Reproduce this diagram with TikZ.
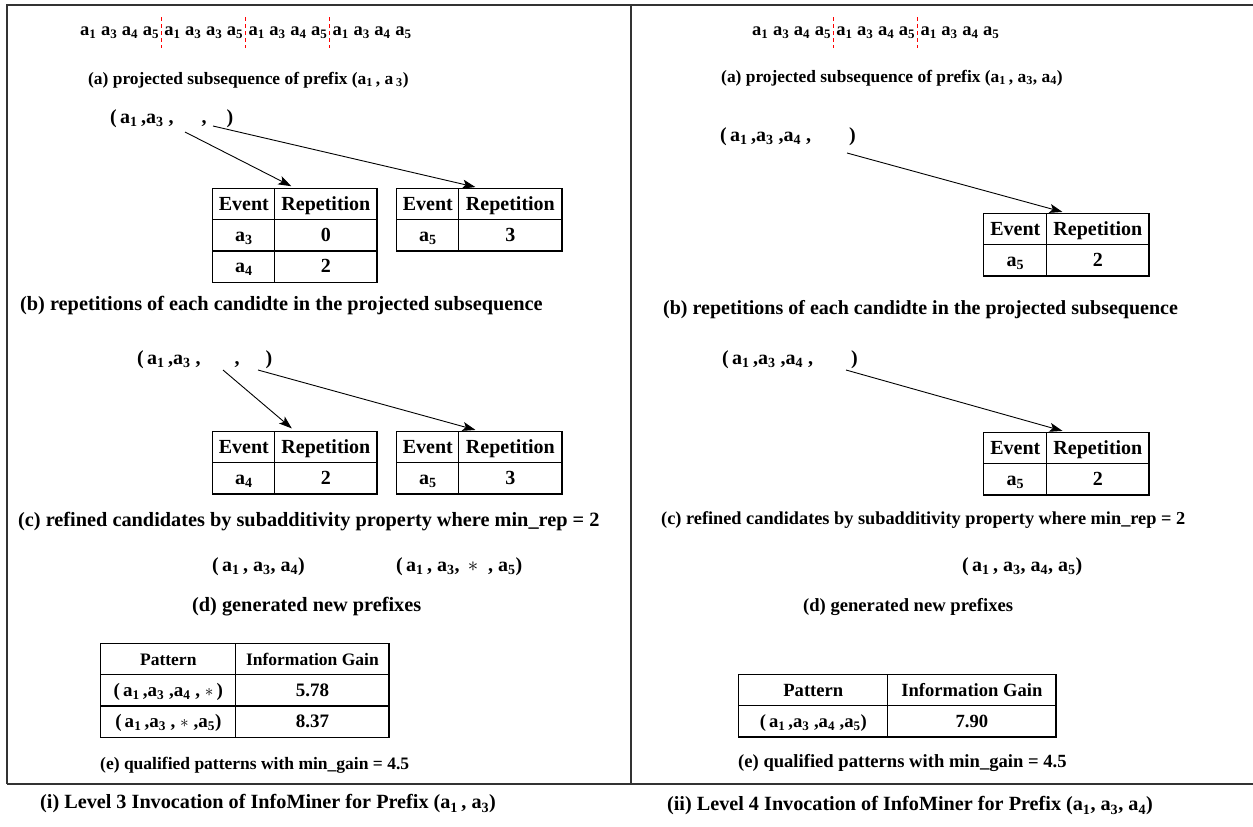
\documentclass[tikz,border=0pt]{standalone}
\usepackage{fontspec}
\setmainfont{Liberation Serif}
\usepackage{array}
\usetikzlibrary{arrows.meta,calc}
\newcommand\ev[1]{a\textsubscript{#1}}
\newcommand\tabset{\setlength\tabcolsep{0pt}\renewcommand\arraystretch{1.25}\setlength\arrayrulewidth{1.1pt}}
\begin{document}
\begin{tikzpicture}[x=1pt,y=-1pt,
 fs/.style={font=\bfseries\fontsize{#1}{24}\selectfont},
 txt/.style={fs=20, inner sep=0pt, anchor=west},
 sepline/.style={red, dash pattern=on 4pt off 3pt, line width=0.9pt},
 arr/.style={-{Stealth[length=13pt,width=9pt,inset=3pt]}, line width=0.9pt, shorten >=4pt},
 frame/.style={draw=black!80, line width=1.6pt},
 tbl/.style={fs=20, inner sep=0pt, anchor=north west}
]
\useasboundingbox (0,0) rectangle (1253,827);
% frame
\draw[frame] (7,784) -- (7,5) -- (1253,5);
\draw[frame] (7,784) -- (1253,784);
\draw[frame] (631,5) -- (631,784);

% ---------------- left panel ----------------
\node[txt, fs=18.5] (g1) at (80,33) {\ev1 \ev3 \ev4 \ev5};
\node[txt, fs=18.5] (g2) at ([xshift=5pt]g1.east) {\ev1 \ev3 \ev3 \ev5};
\node[txt, fs=18.5] (g3) at ([xshift=5pt]g2.east) {\ev1 \ev3 \ev4 \ev5};
\node[txt, fs=18.5] (g4) at ([xshift=5pt]g3.east) {\ev1 \ev3 \ev4 \ev5};
\draw[sepline] ([xshift=2pt]g1.east) ++(0,-16) -- ++(0,31);
\draw[sepline] ([xshift=2pt]g2.east) ++(0,-16) -- ++(0,31);
\draw[sepline] ([xshift=2pt]g3.east) ++(0,-16) -- ++(0,31);
\node[txt, fs=17.4] (la) at (88,80) {(a) projected subsequence of prefix (\ev1\,, a\,\textsubscript{3})};

\node[txt] (tu1) at (110,119) {(\,\ev1\,,\ev3\ ,\hspace{28pt},\hspace{20pt})};
\coordinate (s1) at (185,132);
\coordinate (s2) at (213,126);
\node[tbl] (t1) at (212,188) {\tabset\begin{tabular}{|w{c}{61pt}|w{c}{101pt}|}\hline Event & Repetition\\\hline \ev3 & 0\\\hline \ev4 & 2\\\hline\end{tabular}};
\node[tbl] (t2) at (396,188) {\tabset\begin{tabular}{|w{c}{61pt}|w{c}{102pt}|}\hline Event & Repetition\\\hline \ev5 & 3\\\hline\end{tabular}};
\draw[arr] (s1) -- (t1.north);
\draw[arr] (s2) -- (t2.north);
\node[txt, fs=20.3] (lb) at (20,306) {(b) repetitions of each candidte in the projected subsequence};

\node[txt] (tu2) at (137,360) {(\,\ev1\,,\ev3\ ,\hspace{34pt},\hspace{26pt})};
\coordinate (s3) at (223,370);
\coordinate (s4) at (258,370);
\node[tbl] (t3) at (212,431) {\tabset\begin{tabular}{|w{c}{61pt}|w{c}{101pt}|}\hline Event & Repetition\\\hline \ev4 & 2\\\hline\end{tabular}};
\node[tbl] (t4) at (396,431) {\tabset\begin{tabular}{|w{c}{61pt}|w{c}{102pt}|}\hline Event & Repetition\\\hline \ev5 & 3\\\hline\end{tabular}};
\draw[arr] (s3) -- (t3.north);
\draw[arr] (s4) -- (t4.north);
\node[txt, fs=20.3] (lc) at (18,522) {(c) refined candidates by subadditivity property where min\_rep = 2};

\node[txt] (p1) at (212,567) {(\,\ev1\,,\ \ev3, \ev4)};
\node[txt] (p2) at (396,567) {(\,\ev1\,,\ \ev3,\ \,$\ast$\ \ , \ev5)};
\node[txt, fs=20.3] (ld) at (192,607) {(d) generated new prefixes};

\node[tbl, fs=17.5] (t5) at (100,643) {\tabset\begin{tabular}{|w{c}{134pt}|w{c}{152pt}|}\hline Pattern & Information Gain\\\hline \fontsize{19}{24}\selectfont(\,\ev1\,,\ev3\ ,\ev4\ , $\ast$\,) & \fontsize{19}{24}\selectfont5.78\\\hline \fontsize{19}{24}\selectfont(\,\ev1\,,\ev3\ , $\ast$\ ,\ev5) & \fontsize{19}{24}\selectfont8.37\\\hline\end{tabular}};
\node[txt, fs=17.5] (le) at (100,765) {(e) qualified patterns with min\_gain = 4.5};
\node[txt, fs=20.2] (li) at (40,804) {(i) Level 3 Invocation of InfoMiner for Prefix (a\textsubscript{1}\,, a\textsubscript{3})};

% ---------------- right panel ----------------
\node[txt, fs=18.5] (h1) at (752,33) {\ev1 \ev3 \ev4 \ev5};
\node[txt, fs=18.5] (h2) at ([xshift=5pt]h1.east) {\ev1 \ev3 \ev4 \ev5};
\node[txt, fs=18.5] (h3) at ([xshift=5pt]h2.east) {\ev1 \ev3 \ev4 \ev5};
\draw[sepline] ([xshift=2pt]h1.east) ++(0,-16) -- ++(0,31);
\draw[sepline] ([xshift=2pt]h2.east) ++(0,-16) -- ++(0,31);
\node[txt, fs=17.4] (ra) at (721,78) {(a) projected subsequence of prefix (\ev1\,, \ev3, \ev4)};

\node[txt] (ru1) at (720,137) {(\,\ev1\,,\ev3\ ,\ev4\ ,\hspace{38pt})};
\coordinate (r1) at (847,153);
\node[tbl] (rt1) at (983,213) {\tabset\begin{tabular}{|w{c}{62pt}|w{c}{101pt}|}\hline Event & Repetition\\\hline \ev5 & 2\\\hline\end{tabular}};
\draw[arr] (r1) -- (rt1.north);
\node[txt] (rb) at (663,310) {(b) repetitions of each candidte in the projected subsequence};

\node[txt] (ru2) at (722,360) {(\,\ev1\,,\ev3\ ,\ev4\ ,\hspace{38pt})};
\coordinate (r2) at (846,370);
\node[tbl] (rt2) at (983,432) {\tabset\begin{tabular}{|w{c}{62pt}|w{c}{101pt}|}\hline Event & Repetition\\\hline \ev5 & 2\\\hline\end{tabular}};
\draw[arr] (r2) -- (rt2.north);
\node[txt, fs=18.3] (rc) at (661,520) {(c) refined candidates by subadditivity property where min\_rep = 2};

\node[txt] (rp) at (962,567) {(\,\ev1\,,\ \ev3,\ \ev4, \ev5)};
\node[txt, fs=18.6] (rd) at (803,607) {(d) generated new prefixes};

\node[tbl, fs=18.6] (rt5) at (738,674) {\tabset\begin{tabular}{|w{c}{148pt}|w{c}{167pt}|}\hline Pattern & Information Gain\\\hline (\,\ev1\,,\ev3\ ,\ev4\ ,\ev5) & 7.90\\\hline\end{tabular}};
\node[txt, fs=18.6] (re) at (738,763) {(e) qualified patterns with min\_gain = 4.5};
\node[txt, fs=20.2, anchor=east] (rii) at (1153,806) {(ii) Level 4 Invocation of InfoMiner for Prefix (a\textsubscript{1}, a\textsubscript{3}, a\textsubscript{4})};
\end{tikzpicture}
\end{document}
